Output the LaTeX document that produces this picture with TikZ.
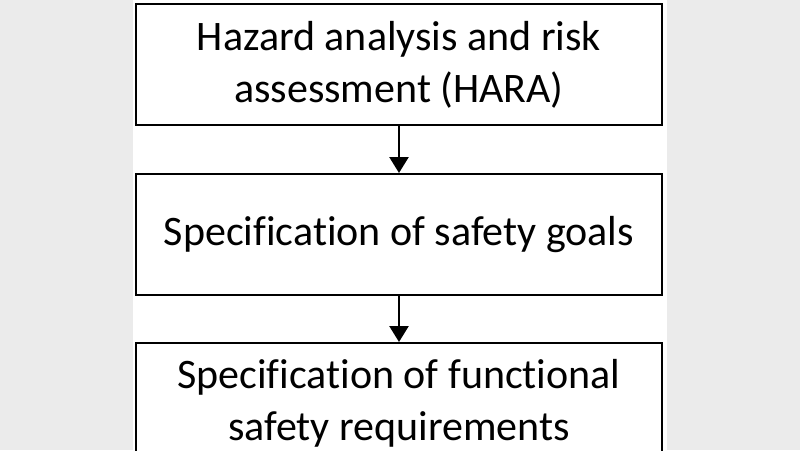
\documentclass[tikz,border=0pt]{standalone}
\usepackage{fontspec}
\setmainfont[Ligatures=NoCommon]{Carlito}
\usetikzlibrary{arrows.meta}

\tikzset{
  stagebox/.style={draw=black,line width=2pt,fill=white,minimum width=526,minimum height=121,
    inner sep=0pt,align=center,font=\fontsize{42}{52}\selectfont},
  flow/.style={line width=2.5pt,-{Triangle[width=19pt,length=16pt]}}
}

\begin{document}
\begin{tikzpicture}[x=1pt,y=-1pt]
\clip (0,0) rectangle (800,450);
\useasboundingbox (0,0) rectangle (800,450);
\fill[black!8] (0,0) rectangle (133,450);
\fill[black!8] (667,0) rectangle (800,450);
\fill[white] (133,0) rectangle (667,450);
\node[stagebox] (hara) at (399,64.5) {Hazard analysis and risk\\assessment (HARA)};
\node[stagebox] (goals) at (399,234.5) {Specification of safety goals};
\node[stagebox] (fsr) at (399,403.5) {Specification of functional\\safety requirements};
\draw[flow] (hara) -- (goals);
\draw[flow] (goals) -- (fsr);
\end{tikzpicture}
\end{document}
